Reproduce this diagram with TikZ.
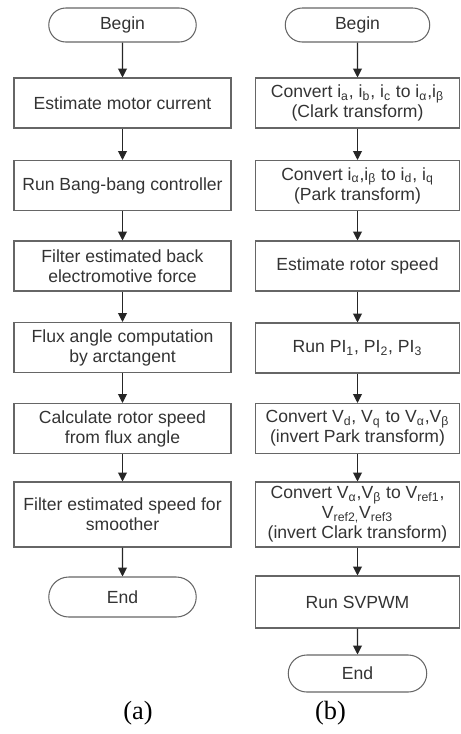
\documentclass[tikz,border=0pt]{standalone}
\usepackage{fontspec}
\setmainfont{Liberation Sans}
\newfontfamily\capfont{Liberation Serif}
\usetikzlibrary{arrows.meta,shapes.misc}

\begin{document}
\begin{tikzpicture}[scale=1, >={Triangle[length=5pt,width=5pt]},
  every node/.style={font=\fontsize{10}{11.4}\selectfont, align=center, text=black!80},
  stepbox/.style={draw=black!60, line width=0.6pt, rectangle, minimum height=1cm, inner sep=1pt},
  termbox/.style={draw=black!60, line width=0.6pt, rounded rectangle, inner sep=1pt},
  flow/.style={->, draw=black!85, line width=0.6pt},
  caption/.style={font=\capfont\fontsize{15}{15}\selectfont, text=black}]
\useasboundingbox (0,0) rectangle (9.2,-14.68);

% (a) estimator
\begin {scope}[xshift=2.45cm, stepbox/.append style={minimum width=4.34cm}]
  \node [termbox, minimum width=3.02cm, minimum height=0.68cm] (abegin) at (0,-0.50) {Begin};
  \node [stepbox] (a1) at (0,-2.06) {Estimate motor current};
  \node [stepbox] (a2) at (0,-3.71) {Run Bang-bang controller};
  \node [stepbox] (a3) at (0,-5.32) {Filter estimated back\\electromotive force};
  \node [stepbox] (a4) at (0,-6.95) {Flux angle computation\\by arctangent};
  \node [stepbox] (a5) at (0,-8.57) {Calculate rotor speed\\from flux angle};
  \node [stepbox, minimum height=1.3cm] (a6) at (0,-10.29) {Filter estimated speed for\\smoother};
  \node [termbox, minimum width=3.02cm, minimum height=0.8cm] (aend) at (0,-11.94) {End};
  \node [caption] (alabel) at (0.31,-14.26) {(a)};
\end {scope}

\foreach \from/\to in {abegin/a1, a1/a2, a2/a3, a3/a4, a4/a5, a5/a6, a6/aend}
  \draw [flow] (\from) -- (\to);

% (b) control loop
\begin {scope}[xshift=7.15cm, stepbox/.append style={minimum width=4.08cm}]
  \node [termbox, minimum width=2.96cm, minimum height=0.68cm] (bbegin) at (0,-0.50) {Begin};
  \node [stepbox] (b1) at (0,-2.06) {Convert i\textsubscript{a}, i\textsubscript{b}, i\textsubscript{c} to i\textsubscript{α},i\textsubscript{β}\\(Clark transform)};
  \node [stepbox] (b2) at (0,-3.71) {Convert i\textsubscript{α},i\textsubscript{β} to i\textsubscript{d}, i\textsubscript{q}\\(Park transform)};
  \node [stepbox] (b3) at (0,-5.32) {Estimate rotor speed};
  \node [stepbox] (b4) at (0,-6.96) {Run PI\textsubscript{1}, PI\textsubscript{2}, PI\textsubscript{3}};
  \node [stepbox] (b5) at (0,-8.57) {Convert V\textsubscript{d}, V\textsubscript{q} to V\textsubscript{α},V\textsubscript{β}\\(invert Park transform)};
  \node [stepbox, minimum height=1.3cm] (b6) at (0,-10.29) {Convert V\textsubscript{α},V\textsubscript{β} to V\textsubscript{ref1},\\V\textsubscript{ref2,}V\textsubscript{ref3}\\(invert Clark transform)};
  \node [stepbox, minimum height=1.04cm] (b7) at (0,-12.04) {Run SVPWM};
  \node [termbox, minimum width=2.84cm, minimum height=0.74cm] (bend) at (0,-13.47) {End};
  \node [caption] (blabel) at (-0.54,-14.26) {(b)};
\end {scope}

\foreach \from/\to in {bbegin/b1, b1/b2, b2/b3, b3/b4, b4/b5, b5/b6, b6/b7, b7/bend}
  \draw [flow] (\from) -- (\to);
\end{tikzpicture}
\end{document}
